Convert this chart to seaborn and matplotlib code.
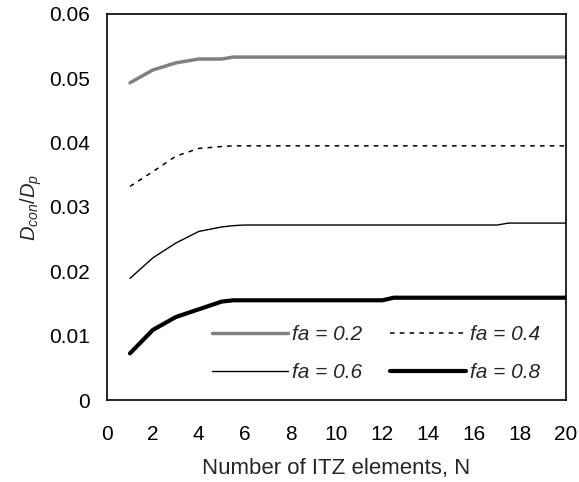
import matplotlib
matplotlib.use("Agg")
import matplotlib.pyplot as plt
import seaborn as sns
import numpy as np
import pandas as pd

# data
N = [1, 2, 3, 4, 5, 5.5, 6, 7, 8, 9, 10, 11, 12, 12.5, 13, 14, 15, 16, 17, 17.5, 18, 19, 20]
fa_02 = [0.0493, 0.0513, 0.0524, 0.0530, 0.0530, 0.0533, 0.0533, 0.0533, 0.0533, 0.0533, 0.0533, 0.0533,
         0.0533, 0.0533, 0.0533, 0.0533, 0.0533, 0.0533, 0.0533, 0.0533, 0.0533, 0.0533, 0.0533]
fa_04 = [0.0332, 0.0355, 0.0379, 0.0391, 0.0394, 0.0395, 0.0395, 0.0395, 0.0395, 0.0395, 0.0395, 0.0395,
         0.0395, 0.0395, 0.0395, 0.0395, 0.0395, 0.0395, 0.0395, 0.0395, 0.0395, 0.0395, 0.0395]
fa_06 = [0.0189, 0.0221, 0.0244, 0.0262, 0.0269, 0.0271, 0.0272, 0.0272, 0.0272, 0.0272, 0.0272, 0.0272,
         0.0272, 0.0272, 0.0272, 0.0272, 0.0272, 0.0272, 0.0272, 0.0275, 0.0275, 0.0275, 0.0275]
fa_08 = [0.00725, 0.0109, 0.0129, 0.0141, 0.0153, 0.0155, 0.0155, 0.0155, 0.0155, 0.0155, 0.0155, 0.0155,
         0.0155, 0.0159, 0.0159, 0.0159, 0.0159, 0.0159, 0.0159, 0.0159, 0.0159, 0.0159, 0.0159]
labels = ["fa = 0.2", "fa = 0.4", "fa = 0.6", "fa = 0.8"]
x_ticks = list(range(0, 21, 2))
y_ticks = [0, 0.01, 0.02, 0.03, 0.04, 0.05, 0.06]
y_tick_labels = ["0", "0.01", "0.02", "0.03", "0.04", "0.05", "0.06"]

sns.set_style("white")
plt.rcParams['font.family'] = ['Liberation Sans', 'DejaVu Sans']
plt.rcParams['mathtext.fontset'] = 'custom'
plt.rcParams['mathtext.rm'] = 'Liberation Sans'
plt.rcParams['mathtext.it'] = 'Liberation Sans:italic'

fig = plt.figure(figsize=(5.79, 4.82), dpi=100)
ax = fig.add_axes([0.1848, 0.1701, 0.7927, 0.8009])

styles = [
    dict(color="#808080", lw=2.5, ls="-"),
    dict(color="black", lw=1.1, ls=(0, (3, 3.4))),
    dict(color="black", lw=1.0, ls="-"),
    dict(color="black", lw=3.0, ls="-"),
]
for vals, lab, st in zip([fa_02, fa_04, fa_06, fa_08], labels, styles):
    sns.lineplot(x=N, y=vals, ax=ax, label=lab, color=st["color"], linewidth=st["lw"],
                 linestyle=st["ls"])

ax.set_xlim(0, 20)
ax.set_ylim(0, 0.06)
ax.set_xticks(x_ticks)
ax.set_yticks(y_ticks)
ax.set_yticklabels(y_tick_labels)
ax.tick_params(direction="in", length=5, width=1, labelsize=15, colors="black")
ax.tick_params(axis="x", pad=18)
ax.tick_params(axis="y", pad=12)
for s in ax.spines.values():
    s.set_color("black")
    s.set_linewidth(1.2)

ax.set_xlabel("Number of ITZ elements, N", fontsize=16, labelpad=10)
ax.set_ylabel(r"$D_{con}/D_p$", fontsize=14.5, labelpad=4)

# row order in the reference: 0.2, 0.4 / 0.6, 0.8
handles, labs = ax.get_legend_handles_labels()
order = [0, 2, 1, 3]
ax.legend([handles[i] for i in order], [labs[i] for i in order], ncol=2, frameon=False,
          loc="center", bbox_to_anchor=(0.586, 0.12),
          prop={'style': 'italic', 'size': 15}, handlelength=3.65, handletextpad=0.2,
          columnspacing=1.35, labelspacing=0.9)

fig.savefig("out.png", dpi=100)
